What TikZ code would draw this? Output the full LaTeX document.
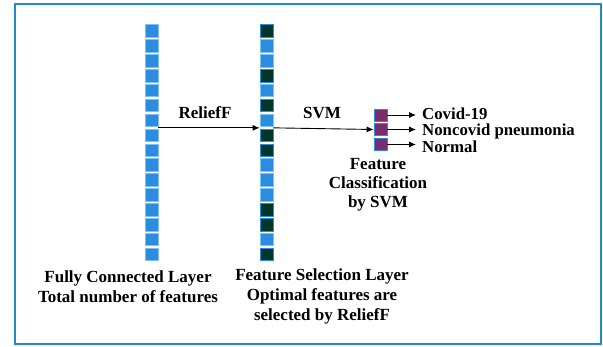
\documentclass[tikz,border=0pt]{standalone}
\usepackage{fontspec}
\setmainfont{Liberation Serif}[BoldFont={Liberation Serif Bold}]
\usetikzlibrary{arrows.meta,calc}
\definecolor{frameblue}{HTML}{1E8BC3}
\definecolor{sqblue}{HTML}{2A8DE0}
\definecolor{sqedge}{HTML}{7FC0F0}
\definecolor{sqdark}{HTML}{00372A}
\definecolor{sqpurple}{HTML}{7A2D6C}
\begin{document}
\begin{tikzpicture}[x=1pt,y=-1pt,
  sq/.style={draw=sqedge,line width=0.8pt,fill=sqblue,minimum width=13pt,minimum height=12.5pt,inner sep=0pt},
  sqd/.style={sq,fill=sqdark,draw=sqblue},
  sqp/.style={sq,fill=sqpurple,draw=sqblue,minimum height=12pt},
  lbl/.style={font=\fontsize{17}{20}\selectfont\bfseries,inner sep=0pt,align=center},
  cls/.style={font=\fontsize{16.8}{16}\selectfont\bfseries,inner sep=0pt,anchor=west},
  arr/.style={draw=black,line width=0.9pt,-{Latex[length=7pt,width=6pt]}}]
\useasboundingbox (0,0) rectangle (603,347);
\fill[white] (0,0) rectangle (603,347);
\draw[frameblue,line width=2.2pt] (15,4) rectangle (601,344);
% column 1
\foreach \i in {1,...,16}
  \node[sq] (a\i) at (151.5,{31+(\i-1)*14.9}) {};
% column 2
\foreach \i in {1,...,16}
  \node[sq] (b\i) at (266.5,{31+(\i-1)*14.9}) {};
\foreach \i in {1,4,6,8,9,13,14,16}
  \node[sqd] at (b\i) {};
% purple boxes
\node[sqp] (p1) at (380.5,115) {};
\node[sqp] (p2) at (380.5,129.5) {};
\node[sqp] (p3) at (380.5,144.5) {};
% arrows
\coordinate (a78) at ($(a7.south east)!0.5!(a8.north east)$);
\coordinate (b78w) at ($(b7.south west)!0.5!(b8.north west)$);
\coordinate (b78e) at ($(b7.south east)!0.5!(b8.north east)$);
\draw[arr] (a78) -- (b78w);
\draw[arr] (b78e) -- (p2.west);
\coordinate (e1) at (416,115);
\coordinate (e2) at (416,129.5);
\coordinate (e3) at (416,144.5);
\draw[arr] (p1.east) -- (e1);
\draw[arr] (p2.east) -- (e2);
\draw[arr] (p3.east) -- (e3);
% labels
\node[lbl] (relief) at (205,113) {ReliefF};
\node[lbl] (svm) at (322,113) {SVM};
\node[cls,text depth=0pt] (c1) at (422,113.5) {Covid-19};
\node[cls,text depth=0pt] (c2) at (422,130) {Noncovid pneumonia};
\node[cls,text depth=0pt] (c3) at (422,146.5) {Normal};
\node[lbl,font=\fontsize{17}{19}\selectfont\bfseries] (fc) at (378,185) {Feature\\Classification\\by SVM};
\node[lbl] (l1) at (128,287) {Fully Connected Layer\\Total number of features};
\node[lbl] (l2) at (322,296.5) {Feature Selection Layer\\Optimal features are\\selected by ReliefF};
\end{tikzpicture}
\end{document}
